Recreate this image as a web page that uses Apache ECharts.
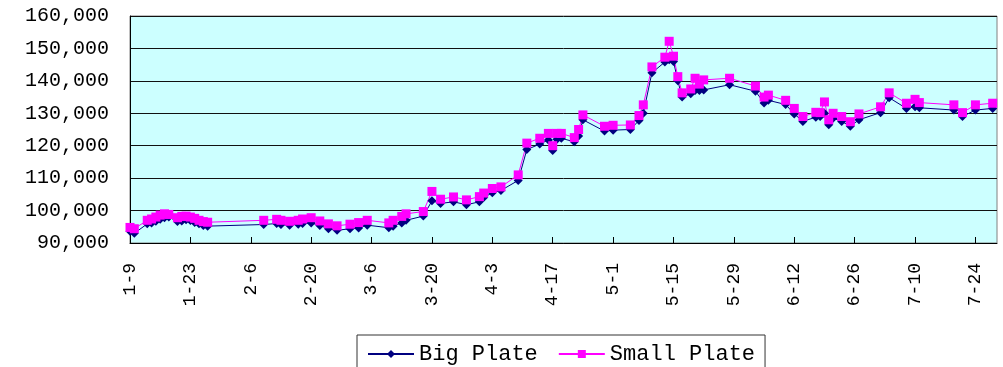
<!DOCTYPE html>
<html>
<head>
<meta charset="utf-8">
<script src="https://cdn.jsdelivr.net/npm/echarts@6/dist/echarts.min.js"></script>
<style>
  html, body { margin: 0; padding: 0; background: #ffffff; }
  #chart { width: 1003px; height: 367px; }
</style>
</head>
<body>
<div id="chart"></div>
<script>
// Trading dates (month-day) and closing prices for the two plate grades
const dates = [
  '1-9','1-10','1-13','1-14','1-15','1-16','1-17','1-18','1-20','1-21','1-22','1-23','1-24','1-25','1-26','1-27',
  '2-9','2-12','2-13','2-15','2-17','2-18','2-20','2-22','2-24','2-26',
  '3-1','3-3','3-5','3-10','3-11','3-13','3-14','3-18','3-20','3-22','3-25','3-28','3-31',
  '4-1','4-3','4-5','4-9','4-11','4-14','4-16','4-17','4-18','4-19','4-22','4-23','4-24','4-29',
  '5-1','5-5','5-7','5-8','5-10','5-13','5-14','5-15','5-16','5-17','5-19','5-20','5-21','5-22','5-28',
  '6-3','6-5','6-6','6-10','6-12','6-14','6-17','6-18','6-19','6-20','6-21','6-23','6-25','6-27',
  '7-2','7-4','7-8','7-10','7-11','7-19','7-21','7-24','7-28'
];

const bigPlate = [
  93600, 93000, 95900, 96200, 96700, 97300, 97800, 98000, 96600, 96800, 97200, 96900, 96300, 95900, 95400, 95200,
  95700, 96000, 95700, 95500, 95800, 96000, 96200, 95400, 94400, 93900,
  94400, 94600, 95500, 94700, 95200, 96200, 97000, 98300, 103000, 102200, 102700, 101800, 102700,
  104000, 105500, 106200, 109300, 118800, 120500, 121800, 118500, 122000, 122300, 121200, 123000, 128000, 124500,
  124800, 125000, 127800, 130000, 142500, 145800, 146500, 146000, 140000, 135000, 136000, 137000, 137000, 137200, 138800,
  136800, 133200, 134000, 132700, 129800, 127500, 128800, 129000, 130000, 126500, 128500, 127500, 126000, 128000,
  130200, 134800, 131500, 132000, 131700, 131000, 129000, 131000, 131500
];

const smallPlate = [
  94800, 94400, 97000, 97400, 98000, 98600, 99000, 98800, 97800, 98200, 98300, 98000, 97600, 97000, 96600, 96400,
  97000, 97300, 97000, 96700, 97000, 97400, 97800, 96800, 95900, 95300,
  95800, 96300, 97000, 96200, 97000, 98200, 99000, 99700, 105900, 103500, 104200, 103300, 104300,
  105400, 106800, 107300, 111000, 120800, 122300, 123800, 120000, 123800, 123800, 122500, 125000, 129500, 126000,
  126300, 126400, 129300, 132600, 144300, 147300, 152200, 147600, 141300, 136300, 137500, 140800, 139000, 140300, 140800,
  138400, 135000, 135600, 134000, 131500, 129000, 130300, 130200, 133500, 128000, 130000, 129000, 127400, 129800,
  132000, 136300, 133100, 134300, 133300, 132600, 130200, 132600, 133100
];

// Date axis: days counted from the first trading date, labelled every two weeks
const YEAR = 2007;
const DAY = 86400000;
const origin = Date.UTC(YEAR, 0, 9);
const axisDays = 201;
const tickStep = 14;

function toDay(md) {
  const [m, d] = md.split('-').map(Number);
  return Math.round((Date.UTC(YEAR, m - 1, d) - origin) / DAY);
}
function toLabel(day) {
  const dt = new Date(origin + day * DAY);
  return (dt.getUTCMonth() + 1) + '-' + dt.getUTCDate();
}
function withCommas(v) {
  return String(v).replace(/\B(?=(\d{3})+(?!\d))/g, ',');
}

const bigData = dates.map((d, i) => [toDay(d), bigPlate[i]]);
const smallData = dates.map((d, i) => [toDay(d), smallPlate[i]]);

const chart = echarts.init(document.getElementById('chart'), null, { renderer: 'canvas' });

chart.setOption({
  animation: false,
  backgroundColor: '#ffffff',
  textStyle: { fontFamily: 'Liberation Mono' },
  grid: {
    left: 130, right: 6, top: 16, bottom: 124,
    show: true,
    backgroundColor: '#CCFFFF',
    borderColor: '#808080',
    borderWidth: 1
  },
  legend: {
    data: ['Big Plate', 'Small Plate'],
    left: 357,
    top: 335,
    padding: [8, 10, 8, 10],
    itemGap: 20,
    itemWidth: 46,
    itemHeight: 10,
    borderColor: '#333333',
    borderWidth: 1,
    textStyle: { fontFamily: 'Liberation Mono', fontSize: 22, color: '#000000' }
  },
  xAxis: {
    type: 'value',
    min: 0,
    max: axisDays,
    interval: tickStep,
    axisLine: { show: true, lineStyle: { color: '#000000', width: 1 } },
    axisTick: { show: true, inside: true, length: 6, lineStyle: { color: '#000000' } },
    splitLine: { show: false },
    axisLabel: {
      rotate: 90,
      margin: 20,
      showMaxLabel: false,
      fontFamily: 'Liberation Mono',
      fontSize: 18,
      color: '#000000',
      formatter: v => (v % tickStep === 0 ? toLabel(v) : '')
    }
  },
  yAxis: {
    type: 'value',
    min: 90000,
    max: 160000,
    interval: 10000,
    axisLine: { show: true, lineStyle: { color: '#000000', width: 1 } },
    axisTick: { show: false },
    splitLine: { show: true, lineStyle: { color: '#111111', width: 1 } },
    axisLabel: {
      margin: 21,
      fontFamily: 'Liberation Mono',
      fontSize: 20,
      color: '#000000',
      formatter: withCommas
    }
  },
  series: [
    {
      name: 'Big Plate',
      type: 'line',
      data: bigData,
      color: '#000080',
      symbol: 'diamond',
      symbolSize: 9,
      showAllSymbol: true,
      lineStyle: { color: '#000080', width: 1 },
      itemStyle: { color: '#000080' }
    },
    {
      name: 'Small Plate',
      type: 'line',
      data: smallData,
      color: '#FF00FF',
      symbol: 'rect',
      symbolSize: 9,
      showAllSymbol: true,
      lineStyle: { color: '#FF00FF', width: 1 },
      itemStyle: { color: '#FF00FF' }
    }
  ]
});
</script>
</body>
</html>
